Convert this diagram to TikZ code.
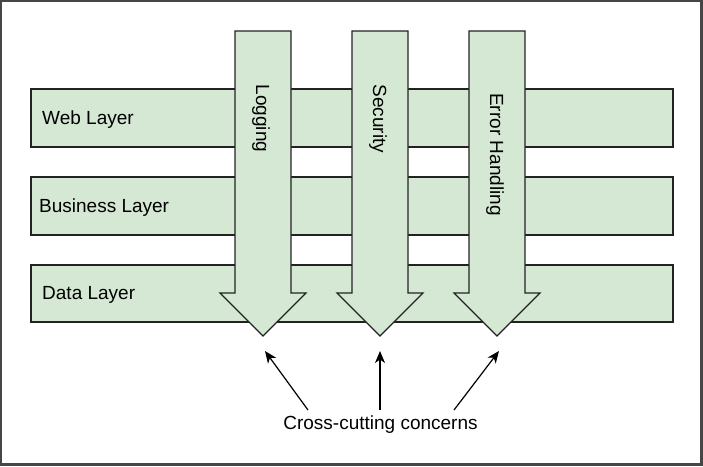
\documentclass[tikz,border=0pt]{standalone}
\usepackage{fontspec}
\setmainfont{Liberation Sans}
\usetikzlibrary{arrows.meta}
\definecolor{layerfill}{HTML}{D5E8D4}
\definecolor{edge}{HTML}{222222}
\begin{document}
\begin{tikzpicture}[x=1pt,y=-1pt,
  layer/.style={draw=edge,fill=layerfill,line width=1.2pt},
  lbl/.style={font=\fontsize{19}{22}\selectfont,inner sep=0pt},
  pointer/.style={line width=1.2pt,-{Stealth[length=12pt,width=10pt,inset=3.5pt]}}]
\useasboundingbox (0,0) rectangle (703,466);
\draw[line width=2.4pt,draw=gray!55!black] (1.2,1.2) rectangle (701.6,464.6);
% layers
\draw[layer] (31,89) rectangle (673,147);
\draw[layer] (31,177) rectangle (673,235);
\draw[layer] (31,265) rectangle (673,322);
\node[lbl,anchor=west] (web) at (42,119.5) {Web Layer};
\node[lbl,anchor=west] (bus) at (39,207.5) {Business Layer};
\node[lbl,anchor=west] (dat) at (42,295) {Data Layer};
% concern arrows
\foreach \cx/\nm in {263/log,380/sec,497/err}{
  \draw[layer,line join=miter] (\cx-28,31) -- (\cx+28,31) -- (\cx+28,293) -- (\cx+43,293)
     -- (\cx,336) -- (\cx-43,293) -- (\cx-28,293) -- cycle;
  \coordinate (\nm) at (\cx,336);
}
\node[lbl,rotate=-90] (tlog) at (261,118.5) {Logging};
\node[lbl,rotate=-90] (tsec) at (378,119) {Security};
\node[lbl,rotate=-90] (terr) at (495,154.5) {Error Handling};
% label and pointers
\node[lbl] (cc) at (380.5,425) {Cross-cutting concerns};
\coordinate (s1) at (308,410);
\coordinate (s2) at (380,410);
\coordinate (s3) at (454,410);
\coordinate (t1) at (265,351);
\coordinate (t2) at (380,351);
\coordinate (t3) at (499,351);
\draw[pointer] (s1) -- (t1);
\draw[pointer] (s2) -- (t2);
\draw[pointer] (s3) -- (t3);
\end{tikzpicture}
\end{document}
